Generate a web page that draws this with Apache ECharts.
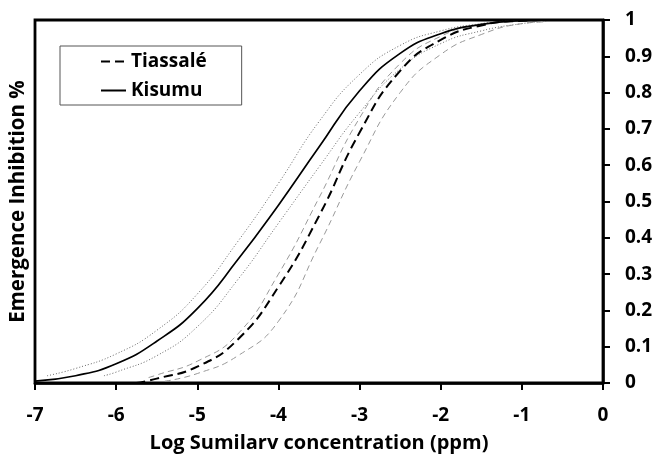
<!DOCTYPE html>
<html>
<head>
<meta charset="utf-8">
<script src="https://cdn.jsdelivr.net/npm/echarts@6/dist/echarts.min.js"></script>
<style>html,body{margin:0;padding:0;background:#fff}#c{width:659px;height:454px}</style>
</head>
<body>
<div id="c"></div>
<script>
// Kisumu (solid) and its bounds (dotted)
const kisumuX = [-7, -6.5, -6, -5.5, -5, -4.5, -4, -3.5, -3, -2.5, -2, -1.5, -1, -0.5];
const kisumuY = [0.005, 0.02, 0.053, 0.115, 0.205, 0.34, 0.49, 0.65, 0.805, 0.908, 0.962, 0.988, 0.998, 1.0];
const kisumuUpX = [-6.85, -6.5, -6, -5.5, -5, -4.5, -4, -3.5, -3, -2.5, -2, -1.5, -1.1];
const kisumuUpY = [0.02, 0.04, 0.08, 0.145, 0.245, 0.39, 0.55, 0.72, 0.85, 0.93, 0.97, 0.99, 0.998];
const kisumuLowX = [-6.15, -6, -5.5, -5, -4.5, -4, -3.5, -3, -2.5, -2, -1.5, -1, -0.7];
const kisumuLowY = [0.02, 0.03, 0.075, 0.155, 0.285, 0.44, 0.595, 0.745, 0.865, 0.935, 0.97, 0.99, 0.996];
// Tiassalé (dashed) and its bounds (grey dashed)
const tiaX = [-5.75, -5.5, -5, -4.5, -4, -3.5, -3, -2.5, -2, -1.5, -1, -0.7];
const tiaY = [0.0, 0.012, 0.045, 0.12, 0.265, 0.46, 0.69, 0.86, 0.945, 0.985, 0.998, 1.0];
const tiaLeftX = [-5.6, -5.5, -5, -4.5, -4, -3.5, -3, -2.5, -2, -1.5, -1];
const tiaLeftY = [0.015, 0.022, 0.06, 0.135, 0.3, 0.51, 0.73, 0.88, 0.955, 0.988, 0.998];
const tiaRightX = [-5.4, -5, -4.5, -4, -3.5, -3, -2.5, -2, -1.5, -1, -0.7];
const tiaRightY = [0.005, 0.026, 0.075, 0.17, 0.38, 0.61, 0.8, 0.905, 0.96, 0.99, 0.995];

const seriesNames = ['Tiassalé', 'Kisumu'];
const xTitle = 'Log Sumilarv concentration (ppm)';
const yTitle = 'Emergence Inhibition %';

function pairs(xs, ys) { return xs.map((x, i) => [x, ys[i]]); }
const FONT = 'Open Sans';

function line(name, xs, ys, color, width, type, z) {
  return {
    name: name, type: 'line', data: pairs(xs, ys), showSymbol: false, symbol: 'circle',
    smooth: 0.5, z: z, silent: true,
    itemStyle: { color: 'rgba(0,0,0,0)' },
    lineStyle: { color: color, width: width, type: type }
  };
}

const chart = echarts.init(document.getElementById('c'), null, { renderer: 'canvas' });
chart.setOption({
  animation: false,
  backgroundColor: '#fff',
  grid: { left: 35, right: 56, top: 20, bottom: 71, show: true, borderColor: '#000', borderWidth: 2.8, outerBoundsMode: 'none' },
  legend: {
    data: seriesNames, orient: 'vertical', left: 60, top: 46,
    padding: [6, 35, 5, 40], itemGap: 10, itemWidth: 25, itemHeight: 20,
    borderColor: '#555', borderWidth: 1, backgroundColor: '#fff',
    textStyle: { fontFamily: FONT, fontWeight: 'bold', fontSize: 19, color: '#000' },
    selectedMode: false
  },
  xAxis: {
    type: 'value', min: -7, max: 0, interval: 1,
    name: xTitle, nameLocation: 'middle', nameGap: 50,
    nameTextStyle: { fontFamily: FONT, fontWeight: 'bold', fontSize: 20, color: '#000' },
    axisLine: { show: true, onZero: false, lineStyle: { color: '#000', width: 2.5 } },
    axisTick: { show: true, inside: false, length: 7, lineStyle: { color: '#000', width: 2 } },
    axisLabel: { fontFamily: FONT, fontWeight: 'bold', fontSize: 19, color: '#000', margin: 23 },
    splitLine: { show: false }
  },
  yAxis: [{
    type: 'value', min: 0, max: 1, interval: 0.1, position: 'right',
    axisLine: { show: true, lineStyle: { color: '#000', width: 2.5 } },
    axisTick: { show: true, inside: false, length: 7, lineStyle: { color: '#000', width: 2 } },
    axisLabel: {
      margin: 22, formatter: '{a|{value}}',
      rich: { a: { width: 32, align: 'left', fontFamily: FONT, fontWeight: 'bold', fontSize: 19, color: '#000' } }
    },
    splitLine: { show: false }
  }, {
    type: 'value', min: 0, max: 1, position: 'left',
    name: yTitle, nameLocation: 'middle', nameGap: 6, nameRotate: 90,
    nameTextStyle: { fontFamily: FONT, fontWeight: 'bold', fontSize: 20.5, color: '#000' },
    axisLine: { show: false }, axisTick: { show: false }, axisLabel: { show: false }, splitLine: { show: false }
  }],
  series: [
    line('kUp', kisumuUpX, kisumuUpY, '#666', 1, [1, 2], 2),
    line('kLow', kisumuLowX, kisumuLowY, '#666', 1, [1, 2], 2),
    line('tLeft', tiaLeftX, tiaLeftY, '#999', 1, [6, 4], 2),
    line('tRight', tiaRightX, tiaRightY, '#999', 1, [6, 4], 2),
    line('Tiassalé', tiaX, tiaY, '#000', 2, [9, 5], 3),
    line('Kisumu', kisumuX, kisumuY, '#000', 1.7, 'solid', 3)
  ]
});
</script>
</body>
</html>
